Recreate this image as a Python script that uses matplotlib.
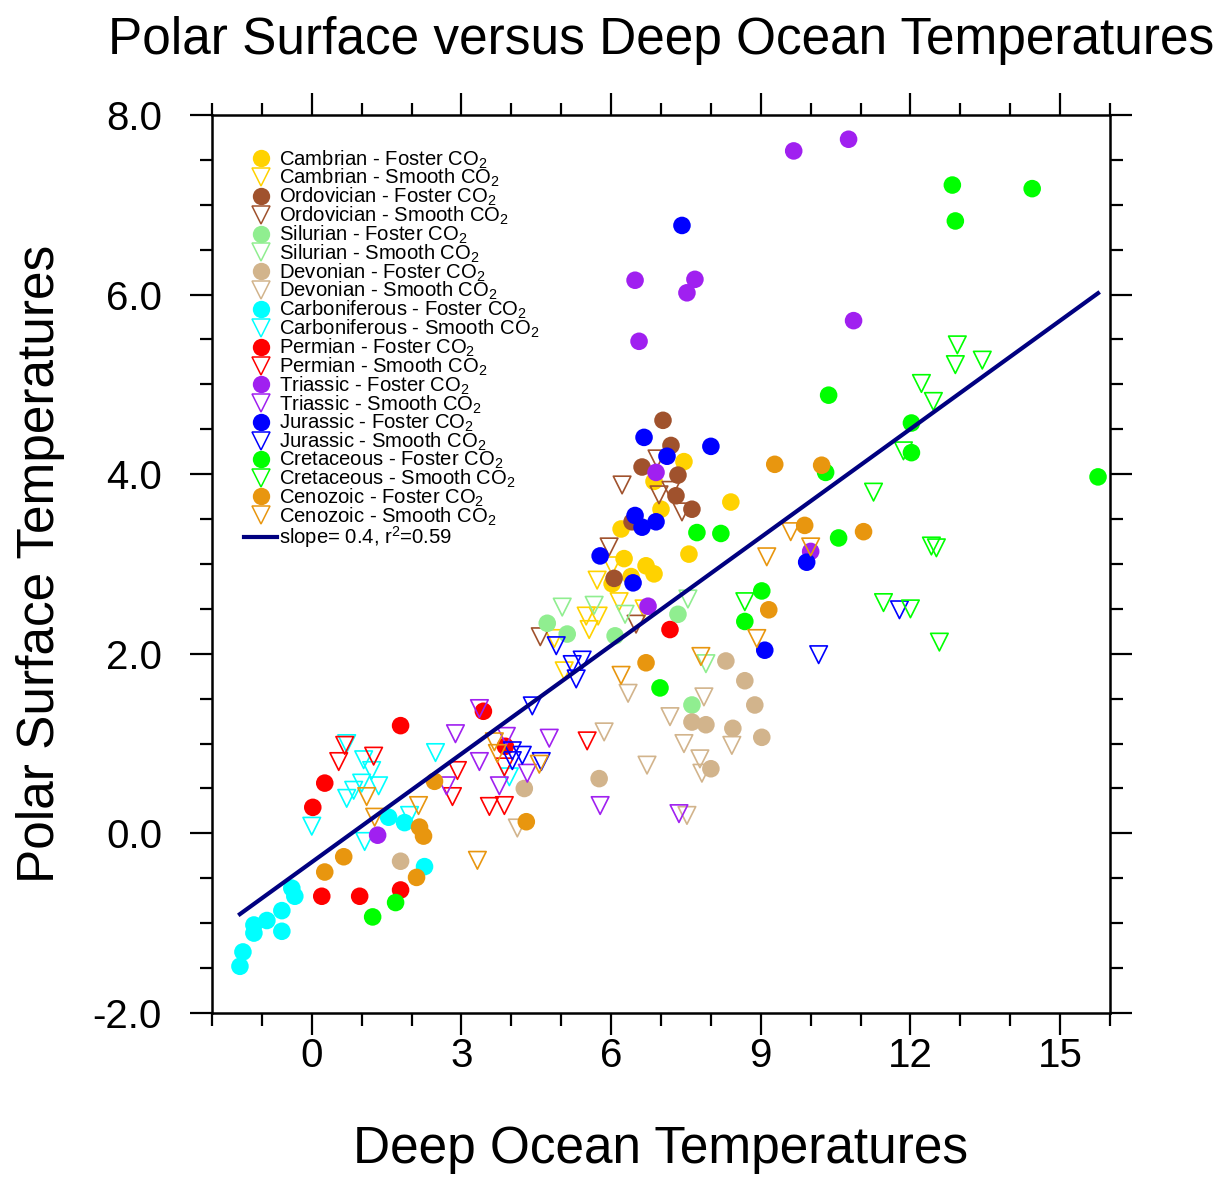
import numpy as np
import matplotlib
matplotlib.use("Agg")
import matplotlib.pyplot as plt
from matplotlib.lines import Line2D
from matplotlib.ticker import MultipleLocator, FormatStrFormatter

plt.rcParams['font.family'] = ['Liberation Sans', 'DejaVu Sans']
plt.rcParams['mathtext.fontset'] = 'custom'
plt.rcParams['mathtext.rm'] = 'Liberation Sans'

# deep ocean temperature (x) vs polar surface temperature (y)
cambrian_foster_x = [7.46, 6.86, 8.4, 6.2, 7.0, 7.56, 6.26, 6.7, 6.86, 6.4, 6.02]
cambrian_foster_y = [4.14, 3.92, 3.69, 3.39, 3.61, 3.11, 3.06, 2.98, 2.89, 2.86, 2.78]
cambrian_smooth_x = [5.72, 6.02, 6.16, 5.5, 5.74, 5.56, 6.66, 4.86, 5.06]
cambrian_smooth_y = [2.82, 2.98, 2.58, 2.42, 2.42, 2.27, 2.5, 2.17, 1.81]

ordovician_foster_x = [7.04, 7.2, 6.62, 7.34, 7.3, 7.62, 6.42, 6.06]
ordovician_foster_y = [4.6, 4.32, 4.08, 3.99, 3.76, 3.61, 3.47, 2.84]
ordovician_smooth_x = [6.92, 6.22, 6.96, 7.2, 7.42, 5.96, 6.5, 4.58]
ordovician_smooth_y = [4.17, 3.88, 3.77, 3.82, 3.58, 3.19, 2.33, 2.19]

silurian_foster_x = [4.72, 5.12, 6.08, 7.34, 7.62]
silurian_foster_y = [2.34, 2.22, 2.2, 2.44, 1.43]
silurian_smooth_x = [5.02, 5.66, 6.28, 7.54, 7.9]
silurian_smooth_y = [2.52, 2.54, 2.44, 2.61, 1.89]

devonian_foster_x = [8.3, 8.68, 8.88, 7.62, 7.9, 8.44, 9.02, 8.0, 5.76, 4.26, 1.78]
devonian_foster_y = [1.92, 1.7, 1.43, 1.24, 1.21, 1.17, 1.07, 0.72, 0.61, 0.5, -0.31]
devonian_smooth_x = [6.34, 7.86, 7.18, 5.86, 7.46, 8.42, 7.78, 6.72, 7.82, 4.12, 7.52]
devonian_smooth_y = [1.56, 1.52, 1.3, 1.13, 1.0, 0.98, 0.83, 0.76, 0.67, 0.06, 0.2]

carboniferous_foster_x = [-1.44, -1.38, -1.16, -1.16, -0.9, -0.6, -0.6, -0.4, -0.34, 1.54, 1.86, 2.26]
carboniferous_foster_y = [-1.48, -1.32, -1.02, -1.11, -0.97, -0.86, -1.09, -0.61, -0.7, 0.18, 0.12, -0.37]
carboniferous_smooth_x = [0.0, 0.7, 1.04, 1.2, 1.0, 0.84, 0.7, 1.34, 1.06, 1.96, 2.48, 3.96]
carboniferous_smooth_y = [0.08, 1.0, 0.82, 0.7, 0.56, 0.48, 0.39, 0.53, -0.09, 0.2, 0.9, 0.63]

permian_foster_x = [1.78, 0.26, 0.02, 0.2, 0.96, 1.78, 3.44, 3.88, 7.18]
permian_foster_y = [1.2, 0.56, 0.29, -0.7, -0.7, -0.63, 1.36, 0.97, 2.27]
permian_smooth_x = [0.66, 0.54, 1.24, 2.92, 2.82, 3.56, 3.86, 3.86, 5.52]
permian_smooth_y = [0.98, 0.8, 0.86, 0.7, 0.41, 0.3, 0.31, 0.74, 1.03]

triassic_foster_x = [9.66, 10.76, 6.48, 7.68, 7.52, 6.56, 10.86, 1.32, 6.9, 6.74, 10.0]
triassic_foster_y = [7.6, 7.73, 6.16, 6.17, 6.02, 5.48, 5.71, -0.02, 4.02, 2.53, 3.14]
triassic_smooth_x = [3.36, 2.88, 3.9, 4.76, 3.36, 3.76, 2.7, 4.32, 5.78, 7.36]
triassic_smooth_y = [1.39, 1.11, 1.08, 1.06, 0.8, 0.53, 0.53, 0.67, 0.31, 0.22]

jurassic_foster_x = [7.42, 6.66, 8.0, 7.12, 6.48, 6.62, 6.9, 5.78, 6.44, 9.92, 9.08]
jurassic_foster_y = [6.77, 4.41, 4.31, 4.2, 3.54, 3.41, 3.47, 3.09, 2.79, 3.02, 2.04]
jurassic_smooth_x = [4.9, 5.22, 5.42, 5.3, 4.42, 4.22, 4.02, 4.6, 4.02, 10.16, 11.78]
jurassic_smooth_y = [2.09, 1.88, 1.93, 1.72, 1.42, 0.87, 0.92, 0.8, 0.81, 1.99, 2.49]

cretaceous_foster_x = [12.84, 14.44, 12.9, 15.76, 10.36, 12.02, 12.02, 10.3, 10.56, 9.02,
                       7.72, 8.2, 8.68, 6.98, 1.22, 1.68]
cretaceous_foster_y = [7.22, 7.18, 6.82, 3.97, 4.88, 4.57, 4.24, 4.02, 3.29, 2.7,
                       3.35, 3.34, 2.36, 1.62, -0.93, -0.77]
cretaceous_smooth_x = [12.94, 12.9, 13.44, 12.22, 12.46, 11.86, 11.26, 12.42, 12.52, 11.46,
                       12.0, 12.58, 8.68]
cretaceous_smooth_y = [5.44, 5.22, 5.27, 5.01, 4.81, 4.26, 3.8, 3.2, 3.18, 2.57,
                       2.5, 2.13, 2.58]

cenozoic_foster_x = [9.28, 10.22, 9.88, 11.06, 9.16, 6.7, 2.46, 2.16, 2.24, 0.64, 0.26, 2.1, 4.3]
cenozoic_foster_y = [4.11, 4.1, 3.43, 3.36, 2.49, 1.9, 0.58, 0.07, -0.03, -0.26, -0.43, -0.49, 0.13]
cenozoic_smooth_x = [1.1, 1.26, 2.14, 3.66, 3.72, 4.56, 3.32, 6.2, 7.8, 8.92, 9.12, 9.6, 10.0]
cenozoic_smooth_y = [0.41, 0.18, 0.31, 1.02, 0.89, 0.77, -0.3, 1.76, 1.97, 2.17, 3.08, 3.36, 3.19]

periods = ["Cambrian", "Ordovician", "Silurian", "Devonian", "Carboniferous",
           "Permian", "Triassic", "Jurassic", "Cretaceous", "Cenozoic"]
period_colors = ["#FFD200", "#A0522D", "#90EE90", "#D2B48C", "#00FFFF",
                 "#FF0000", "#A020F0", "#0000FF", "#00FF00", "#E8960F"]

fit_slope = 0.402
fit_intercept = -0.32
fit_label = r"slope= 0.4, r$^\mathregular{2}$=0.59"

series = [
    (cambrian_foster_x, cambrian_foster_y, cambrian_smooth_x, cambrian_smooth_y),
    (ordovician_foster_x, ordovician_foster_y, ordovician_smooth_x, ordovician_smooth_y),
    (silurian_foster_x, silurian_foster_y, silurian_smooth_x, silurian_smooth_y),
    (devonian_foster_x, devonian_foster_y, devonian_smooth_x, devonian_smooth_y),
    (carboniferous_foster_x, carboniferous_foster_y, carboniferous_smooth_x, carboniferous_smooth_y),
    (permian_foster_x, permian_foster_y, permian_smooth_x, permian_smooth_y),
    (triassic_foster_x, triassic_foster_y, triassic_smooth_x, triassic_smooth_y),
    (jurassic_foster_x, jurassic_foster_y, jurassic_smooth_x, jurassic_smooth_y),
    (cretaceous_foster_x, cretaceous_foster_y, cretaceous_smooth_x, cretaceous_smooth_y),
    (cenozoic_foster_x, cenozoic_foster_y, cenozoic_smooth_x, cenozoic_smooth_y),
]

fig = plt.figure(figsize=(12.28, 11.8), dpi=100)
ax = fig.add_axes([212 / 1228, 1 - 1013 / 1180, 898 / 1228, 898 / 1180])

handles = []
all_x = []
for name, color, (fx, fy, sx, sy) in zip(periods, period_colors, series):
    ax.scatter(fx, fy, s=160, color=color, edgecolors='none', zorder=3)
    ax.scatter(sx, sy, s=160, marker='v', facecolors='none', edgecolors=color,
               linewidths=1.2, zorder=3)
    all_x += fx + sx
    handles.append(Line2D([], [], ls='none', marker='o', ms=12.5, mfc=color, mec='none',
                          label=name + r" - Foster CO$_\mathregular{2}$"))
    handles.append(Line2D([], [], ls='none', marker='v', ms=12.5, mfc='none', mec=color,
                          mew=1.1, label=name + r" - Smooth CO$_\mathregular{2}$"))

xfit = np.array([min(all_x), max(all_x)])
ax.plot(xfit, fit_slope * xfit + fit_intercept, color='#000080', lw=3, zorder=4)
handles.append(Line2D([], [], color='#000080', lw=3, label=fit_label))

ax.set_xlim(-2, 16)
ax.set_ylim(-2, 8)
ax.xaxis.set_major_locator(MultipleLocator(3))
ax.xaxis.set_minor_locator(MultipleLocator(1))
ax.yaxis.set_major_locator(MultipleLocator(2))
ax.yaxis.set_minor_locator(MultipleLocator(0.5))
ax.yaxis.set_major_formatter(FormatStrFormatter('%.1f'))
ax.tick_params(which='both', direction='out', top=True, right=True, width=1.6)
ax.tick_params(which='major', length=16, labelsize=29)
ax.tick_params(axis='x', which='major', pad=1)
ax.tick_params(axis='y', which='major', pad=20)
ax.tick_params(which='minor', length=9)
for sp in ax.spines.values():
    sp.set_linewidth(1.8)

ax.set_title("Polar Surface versus Deep Ocean Temperatures", fontsize=37, pad=44)
ax.set_xlabel("Deep Ocean Temperatures", fontsize=37, labelpad=36)
ax.set_ylabel("Polar Surface Temperatures", fontsize=37, labelpad=20)

ax.legend(handles=handles, loc='upper left', bbox_to_anchor=(0.036, 0.963),
          frameon=False, fontsize=14.6, labelspacing=-0.17, handlelength=1.6,
          handletextpad=0.1, borderaxespad=0, borderpad=0)

fig.savefig("out.png", dpi=100)
